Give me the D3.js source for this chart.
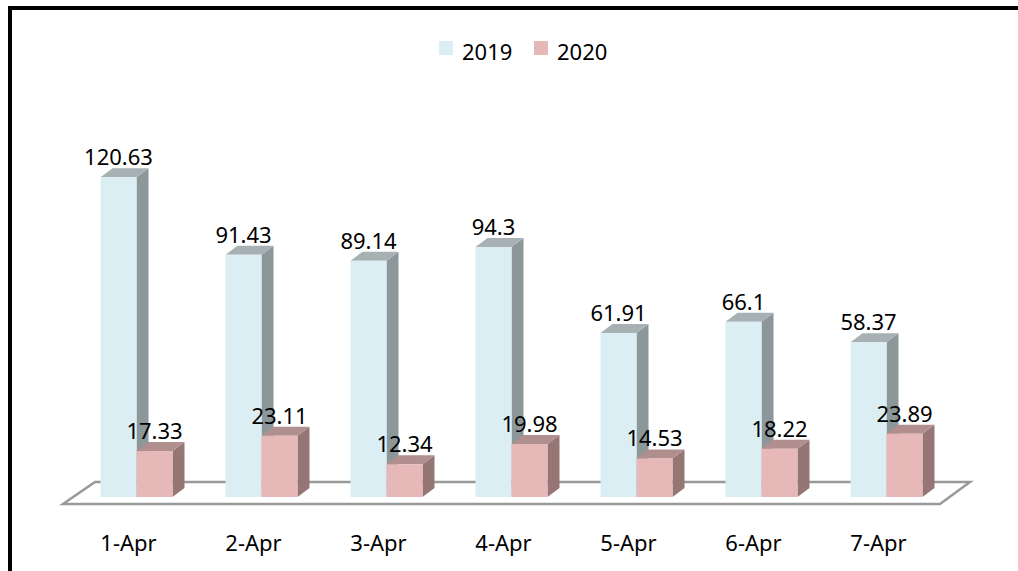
<!DOCTYPE html>
<html>
<head>
<meta charset="utf-8">
<script src="https://cdn.jsdelivr.net/npm/d3@7"></script>
<style>
  html, body { margin: 0; padding: 0; background: #fff; }
  svg { display: block; }
</style>
</head>
<body>
<svg width="1018" height="571"></svg>
<script>
// chart data
const categories = ["1-Apr", "2-Apr", "3-Apr", "4-Apr", "5-Apr", "6-Apr", "7-Apr"];
const seriesNames = ["2019", "2020"];
const values2019 = [120.63, 91.43, 89.14, 94.3, 61.91, 66.1, 58.37];
const values2020 = [17.33, 23.11, 12.34, 19.98, 14.53, 18.22, 23.89];

const colors = {
    "2019": { front: "#dbeef3", side: "#8c979a", top: "#a7b1b4" },
    "2020": { front: "#e6b8b7", side: "#967675", top: "#b08f8e" }
};

let svg = d3.select("svg"),
    width = +svg.attr("width"),
    height = +svg.attr("height");

const font = "'Noto Sans', 'Open Sans', sans-serif";
const depthX = 12, depthY = -9;

let x = d3.scaleBand()
    .domain(categories)
    .range([74, 949])
    .paddingInner(0.424)
    .paddingOuter(0.212);

let xSeries = d3.scaleBand()
    .domain(seriesNames)
    .range([0, x.bandwidth()]);

let y = d3.scaleLinear()
    .domain([0, 140])
    .range([497, 126]);

// frame (top and left only)
svg.append("path")
    .attr("d", "M10," + height + "V8H" + width)
    .attr("fill", "none")
    .attr("stroke", "#000")
    .attr("stroke-width", 4);

// floor
let base = y(0);
let fx0 = x.range()[0], fx1 = x.range()[1];
let floor = [
    [fx0 - 11, base + 7],
    [fx1 - 9, base + 7],
    [fx1 + 21, base - 15],
    [fx0 + 21, base - 15]
];
svg.append("path")
    .attr("d", d3.line()(floor) + "Z")
    .attr("fill", "#fff")
    .attr("stroke", "#999")
    .attr("stroke-width", 2.5)
    .attr("stroke-linejoin", "miter");

// bars
let data = categories.map((c, i) => ({
    cat: c,
    vals: [
        { name: "2019", value: values2019[i] },
        { name: "2020", value: values2020[i] }
    ]
}));

let groups = svg.append("g").selectAll("g")
    .data(data)
    .enter().append("g")
    .attr("transform", d => "translate(" + x(d.cat) + ",0)");

let bars = groups.selectAll("g.bar")
    .data(d => d.vals)
    .enter().append("g")
    .attr("class", "bar");

function facePts(d) {
    let x0 = xSeries(d.name), x1 = x0 + xSeries.bandwidth();
    let yt = y(d.value), yb = y(0);
    return { x0, x1, yt, yb };
}

// side face
bars.append("path")
    .attr("d", d => {
        let p = facePts(d);
        return d3.line()([[p.x1, p.yt], [p.x1 + depthX, p.yt + depthY],
            [p.x1 + depthX, p.yb + depthY], [p.x1, p.yb]]) + "Z";
    })
    .attr("fill", d => colors[d.name].side);

// top face
bars.append("path")
    .attr("d", d => {
        let p = facePts(d);
        return d3.line()([[p.x0, p.yt], [p.x1, p.yt],
            [p.x1 + depthX, p.yt + depthY], [p.x0 + depthX, p.yt + depthY]]) + "Z";
    })
    .attr("fill", d => colors[d.name].top);

// front face
bars.append("rect")
    .attr("x", d => xSeries(d.name))
    .attr("y", d => y(d.value))
    .attr("width", xSeries.bandwidth())
    .attr("height", d => y(0) - y(d.value))
    .attr("fill", d => colors[d.name].front);

// value labels
bars.append("text")
    .attr("x", d => xSeries(d.name) + xSeries.bandwidth() / 2)
    .attr("y", d => y(d.value) - 12)
    .attr("text-anchor", "middle")
    .style("font-family", font)
    .style("font-size", "22px")
    .attr("fill", "#000")
    .text(d => d.value);

// category labels
svg.append("g").selectAll("text")
    .data(categories)
    .enter().append("text")
    .attr("x", d => x(d) + x.bandwidth() / 2 - 8)
    .attr("y", 551)
    .attr("text-anchor", "middle")
    .style("font-family", font)
    .style("font-size", "22px")
    .attr("fill", "#000")
    .text(d => d);

// legend
let legendX = d3.scalePoint()
    .domain(seriesNames)
    .range([439, 534]);

let legend = svg.append("g").selectAll("g")
    .data(seriesNames)
    .enter().append("g")
    .attr("transform", d => "translate(" + legendX(d) + ",41)");

legend.append("rect")
    .attr("width", 14)
    .attr("height", 14)
    .attr("fill", d => colors[d].front);

legend.append("text")
    .attr("x", 23)
    .attr("y", 19)
    .style("font-family", font)
    .style("font-size", "22px")
    .attr("fill", "#000")
    .text(d => d);
</script>
</body>
</html>
